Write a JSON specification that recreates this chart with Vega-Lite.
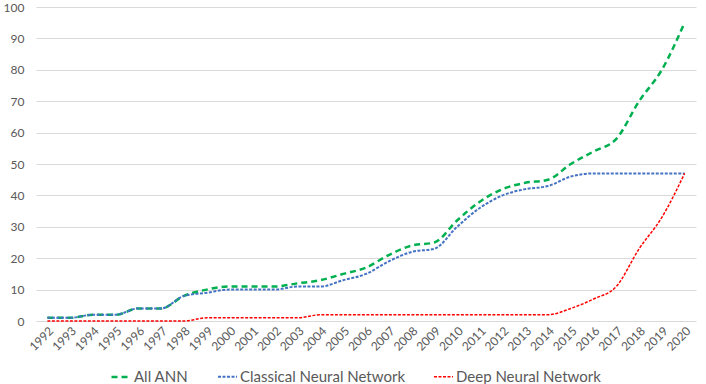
{
  "$schema": "https://vega.github.io/schema/vega-lite/v6.json",
  "width": 660,
  "height": 314,
  "autosize": {"type": "none"},
  "padding": {"left": 36, "top": 7, "right": 10, "bottom": 63},
  "background": "white",
  "config": {
    "view": {"stroke": null},
    "font": "Lato",
    "axis": {"labelFont": "Lato", "labelColor": "#595959", "labelFontSize": 12, "gridColor": "#d9d9d9", "gridWidth": 1, "domain": false, "ticks": false}
  },
  "data": {
    "values": [
      {"year": "1992", "series": "All ANN", "value": 1},
      {"year": "1993", "series": "All ANN", "value": 1},
      {"year": "1994", "series": "All ANN", "value": 2},
      {"year": "1995", "series": "All ANN", "value": 2},
      {"year": "1996", "series": "All ANN", "value": 4},
      {"year": "1997", "series": "All ANN", "value": 4},
      {"year": "1998", "series": "All ANN", "value": 8},
      {"year": "1999", "series": "All ANN", "value": 10},
      {"year": "2000", "series": "All ANN", "value": 11},
      {"year": "2001", "series": "All ANN", "value": 11},
      {"year": "2002", "series": "All ANN", "value": 11},
      {"year": "2003", "series": "All ANN", "value": 12},
      {"year": "2004", "series": "All ANN", "value": 13},
      {"year": "2005", "series": "All ANN", "value": 15},
      {"year": "2006", "series": "All ANN", "value": 17},
      {"year": "2007", "series": "All ANN", "value": 21},
      {"year": "2008", "series": "All ANN", "value": 24},
      {"year": "2009", "series": "All ANN", "value": 25},
      {"year": "2010", "series": "All ANN", "value": 32},
      {"year": "2011", "series": "All ANN", "value": 38},
      {"year": "2012", "series": "All ANN", "value": 42},
      {"year": "2013", "series": "All ANN", "value": 44},
      {"year": "2014", "series": "All ANN", "value": 45},
      {"year": "2015", "series": "All ANN", "value": 50},
      {"year": "2016", "series": "All ANN", "value": 54},
      {"year": "2017", "series": "All ANN", "value": 58},
      {"year": "2018", "series": "All ANN", "value": 70},
      {"year": "2019", "series": "All ANN", "value": 80},
      {"year": "2020", "series": "All ANN", "value": 95},
      {"year": "1992", "series": "Classical Neural Network", "value": 1},
      {"year": "1993", "series": "Classical Neural Network", "value": 1},
      {"year": "1994", "series": "Classical Neural Network", "value": 2},
      {"year": "1995", "series": "Classical Neural Network", "value": 2},
      {"year": "1996", "series": "Classical Neural Network", "value": 4},
      {"year": "1997", "series": "Classical Neural Network", "value": 4},
      {"year": "1998", "series": "Classical Neural Network", "value": 8},
      {"year": "1999", "series": "Classical Neural Network", "value": 9},
      {"year": "2000", "series": "Classical Neural Network", "value": 10},
      {"year": "2001", "series": "Classical Neural Network", "value": 10},
      {"year": "2002", "series": "Classical Neural Network", "value": 10},
      {"year": "2003", "series": "Classical Neural Network", "value": 11},
      {"year": "2004", "series": "Classical Neural Network", "value": 11},
      {"year": "2005", "series": "Classical Neural Network", "value": 13},
      {"year": "2006", "series": "Classical Neural Network", "value": 15},
      {"year": "2007", "series": "Classical Neural Network", "value": 19},
      {"year": "2008", "series": "Classical Neural Network", "value": 22},
      {"year": "2009", "series": "Classical Neural Network", "value": 23},
      {"year": "2010", "series": "Classical Neural Network", "value": 30},
      {"year": "2011", "series": "Classical Neural Network", "value": 36},
      {"year": "2012", "series": "Classical Neural Network", "value": 40},
      {"year": "2013", "series": "Classical Neural Network", "value": 42},
      {"year": "2014", "series": "Classical Neural Network", "value": 43},
      {"year": "2015", "series": "Classical Neural Network", "value": 46},
      {"year": "2016", "series": "Classical Neural Network", "value": 47},
      {"year": "2017", "series": "Classical Neural Network", "value": 47},
      {"year": "2018", "series": "Classical Neural Network", "value": 47},
      {"year": "2019", "series": "Classical Neural Network", "value": 47},
      {"year": "2020", "series": "Classical Neural Network", "value": 47},
      {"year": "1992", "series": "Deep Neural Network", "value": 0},
      {"year": "1993", "series": "Deep Neural Network", "value": 0},
      {"year": "1994", "series": "Deep Neural Network", "value": 0},
      {"year": "1995", "series": "Deep Neural Network", "value": 0},
      {"year": "1996", "series": "Deep Neural Network", "value": 0},
      {"year": "1997", "series": "Deep Neural Network", "value": 0},
      {"year": "1998", "series": "Deep Neural Network", "value": 0},
      {"year": "1999", "series": "Deep Neural Network", "value": 1},
      {"year": "2000", "series": "Deep Neural Network", "value": 1},
      {"year": "2001", "series": "Deep Neural Network", "value": 1},
      {"year": "2002", "series": "Deep Neural Network", "value": 1},
      {"year": "2003", "series": "Deep Neural Network", "value": 1},
      {"year": "2004", "series": "Deep Neural Network", "value": 2},
      {"year": "2005", "series": "Deep Neural Network", "value": 2},
      {"year": "2006", "series": "Deep Neural Network", "value": 2},
      {"year": "2007", "series": "Deep Neural Network", "value": 2},
      {"year": "2008", "series": "Deep Neural Network", "value": 2},
      {"year": "2009", "series": "Deep Neural Network", "value": 2},
      {"year": "2010", "series": "Deep Neural Network", "value": 2},
      {"year": "2011", "series": "Deep Neural Network", "value": 2},
      {"year": "2012", "series": "Deep Neural Network", "value": 2},
      {"year": "2013", "series": "Deep Neural Network", "value": 2},
      {"year": "2014", "series": "Deep Neural Network", "value": 2},
      {"year": "2015", "series": "Deep Neural Network", "value": 4},
      {"year": "2016", "series": "Deep Neural Network", "value": 7},
      {"year": "2017", "series": "Deep Neural Network", "value": 11},
      {"year": "2018", "series": "Deep Neural Network", "value": 23},
      {"year": "2019", "series": "Deep Neural Network", "value": 33},
      {"year": "2020", "series": "Deep Neural Network", "value": 47}
    ]
  },
  "mark": {"type": "line", "interpolate": "monotone"},
  "encoding": {
    "x": {
      "field": "year", "type": "ordinal",
      "scale": {"type": "point", "padding": 0.5},
      "axis": {"title": null, "labelAngle": -45, "grid": false, "labelPadding": 4}
    },
    "y": {
      "field": "value", "type": "quantitative",
      "scale": {"domain": [0, 100]},
      "axis": {"title": null, "values": [0,10,20,30,40,50,60,70,80,90,100], "labelPadding": 12}
    },
    "color": {
      "field": "series", "type": "nominal",
      "scale": {"domain": ["All ANN", "Classical Neural Network", "Deep Neural Network"], "range": ["#00B050", "#4472C4", "#FF0000"]},
      "legend": {
        "title": null, "orient": "none", "direction": "horizontal",
        "legendX": 74, "legendY": 359,
        "symbolType": "stroke", "symbolSize": 361, "symbolStrokeWidth": 2,
        "labelFont": "Lato", "labelFontSize": 15, "labelColor": "#595959", "labelLimit": 400,
        "labelOffset": 2, "columnPadding": 25
      }
    },
    "strokeDash": {
      "field": "series", "type": "nominal",
      "scale": {"domain": ["All ANN", "Classical Neural Network", "Deep Neural Network"], "range": [[6, 4], [3, 1.5], [3, 1.5]]},
      "legend": null
    },
    "strokeWidth": {
      "field": "series", "type": "nominal",
      "scale": {"domain": ["All ANN", "Classical Neural Network", "Deep Neural Network"], "range": [2.5, 1.5, 1.5]},
      "legend": null
    }
  }
}
